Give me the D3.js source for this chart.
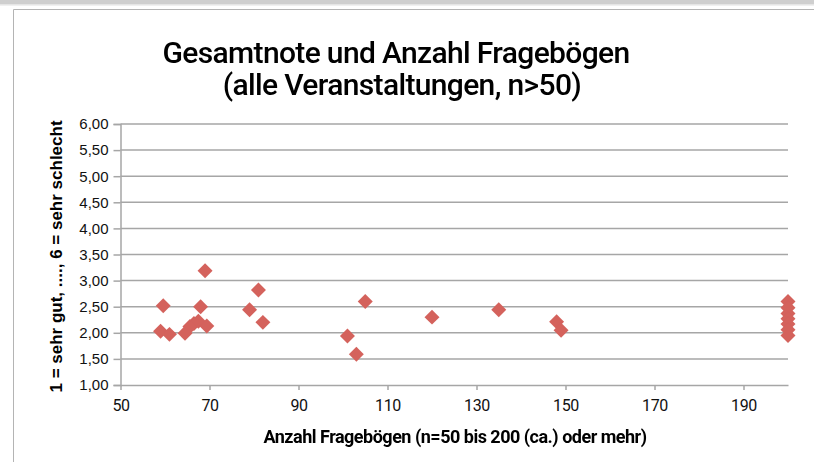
<!DOCTYPE html>
<html><head><meta charset="utf-8">
<script src="https://cdn.jsdelivr.net/npm/d3@7/dist/d3.min.js"></script>
<style>
body{margin:0;background:#fff;}
svg{display:block;}
</style></head>
<body>
<svg id="c" width="814" height="462"></svg>
<script>
// ---- data ----
const titleLines = ["Gesamtnote und Anzahl Fragebögen", "(alle Veranstaltungen, n>50)"];
const xLabel = "Anzahl Fragebögen (n=50 bis 200 (ca.) oder mehr)";
const yLabel = "1 = sehr gut, ...., 6 = sehr schlecht";
const xTicks = [50, 70, 90, 110, 130, 150, 170, 190];
const yTicks = [1, 1.5, 2, 2.5, 3, 3.5, 4, 4.5, 5, 5.5, 6];
const countValues = [59, 59.6, 61, 64.5, 65.6, 66.5, 67.5, 68, 69.4, 69, 79, 81, 82, 101, 103, 105, 120, 135, 148, 149, 200, 200, 200, 200, 200, 200, 200];
const gradeValues = [2.03, 2.52, 1.97, 1.99, 2.12, 2.18, 2.22, 2.5, 2.13, 3.19, 2.44, 2.82, 2.2, 1.94, 1.59, 2.6, 2.3, 2.44, 2.21, 2.05, 2.6, 2.48, 2.37, 2.27, 2.17, 2.06, 1.95];

const svg = d3.select("#c");
const W = 814, H = 462;
const m = {left: 120.5, right: 788, top: 124, bottom: 385};

// frame
svg.append("rect").attr("x",0).attr("y",0).attr("width",W).attr("height",4.5).attr("fill","#cfcfcf");
svg.append("line").attr("x1",0).attr("x2",W).attr("y1",5).attr("y2",5).attr("stroke","#e2e2e2").attr("stroke-width",1);
svg.append("line").attr("x1",13.5).attr("x2",W).attr("y1",9.5).attr("y2",9.5).attr("stroke","#b4b4b4").attr("stroke-width",1);
svg.append("line").attr("x1",13.5).attr("x2",13.5).attr("y1",9.5).attr("y2",H).attr("stroke","#b4b4b4").attr("stroke-width",1);

const x = d3.scaleLinear().domain([50, 200]).range([m.left, m.right]);
const y = d3.scaleLinear().domain([1, 6]).range([m.bottom, m.top]);

// gridlines
svg.append("g").selectAll("line").data(yTicks.filter(d => d > 1)).join("line")
  .attr("x1", m.left).attr("x2", m.right)
  .attr("y1", d => y(d)).attr("y2", d => y(d))
  .attr("stroke", "#a6a6a6").attr("stroke-width", 1.5);

// y axis
const fmt = d => d3.format(".2f")(d).replace(".", ",");
const yAxis = svg.append("g").attr("transform", `translate(${m.left},0)`)
  .call(d3.axisLeft(y).tickValues(yTicks).tickFormat(fmt).tickSize(7).tickPadding(5));
yAxis.select(".domain").attr("stroke", "#a6a6a6").attr("stroke-width", 1.5);
yAxis.selectAll(".tick line").attr("stroke", "#a6a6a6").attr("stroke-width", 1.5);
yAxis.selectAll("text").attr("font-family", "'Liberation Sans', Arial, sans-serif").attr("font-size", 15).attr("fill", "#111");

// x axis
const xAxis = svg.append("g").attr("transform", `translate(0,${m.bottom})`)
  .call(d3.axisBottom(x).tickValues(xTicks).tickFormat(d3.format("d")).tickSize(5).tickPadding(10).tickSizeOuter(0));
xAxis.select(".domain").attr("stroke", "#a6a6a6").attr("stroke-width", 1.5);
xAxis.selectAll(".tick line").attr("stroke", "#a6a6a6").attr("stroke-width", 1.5);
xAxis.selectAll("text").attr("font-family", "Roboto, sans-serif").attr("font-size", 16).attr("fill", "#111").attr("letter-spacing", -0.4);

// points
const defs = svg.append("defs");
defs.append("filter").attr("id", "soft").append("feGaussianBlur").attr("stdDeviation", 0.7);
const pts = countValues.map((c, i) => [c, gradeValues[i]]);
svg.append("g").attr("filter", "url(#soft)").selectAll("path").data(pts).join("path")
  .attr("d", d3.symbol().type(d3.symbolSquare).size(112))
  .attr("transform", d => `translate(${x(d[0])},${y(d[1])}) rotate(45)`)
  .attr("fill", "#d4625c");

// title
const t = svg.append("text").attr("x", 396).attr("text-anchor", "middle")
  .attr("font-family", "Roboto, sans-serif").attr("font-size", 30).attr("font-weight", 500)
  .attr("fill", "#000").attr("letter-spacing", -0.65);
t.selectAll("tspan").data(titleLines).join("tspan")
  .attr("x", (d, i) => i === 0 ? 396 : 402).attr("y", (d, i) => 63 + i * 32).text(d => d);

// axis titles
svg.append("text").attr("x", 455).attr("y", 443).attr("text-anchor", "middle")
  .attr("font-family", "Roboto, sans-serif").attr("font-size", 18).attr("font-weight", 700)
  .attr("letter-spacing", -0.5).attr("fill", "#000").text(xLabel);

svg.append("text").attr("transform", `translate(62,${(m.top + m.bottom) / 2 + 2}) rotate(-90)`)
  .attr("text-anchor", "middle")
  .attr("font-family", "'Liberation Sans', Arial, sans-serif").attr("font-size", 17).attr("font-weight", 700)
  .attr("fill", "#000").text(yLabel);
</script>
</body></html>
